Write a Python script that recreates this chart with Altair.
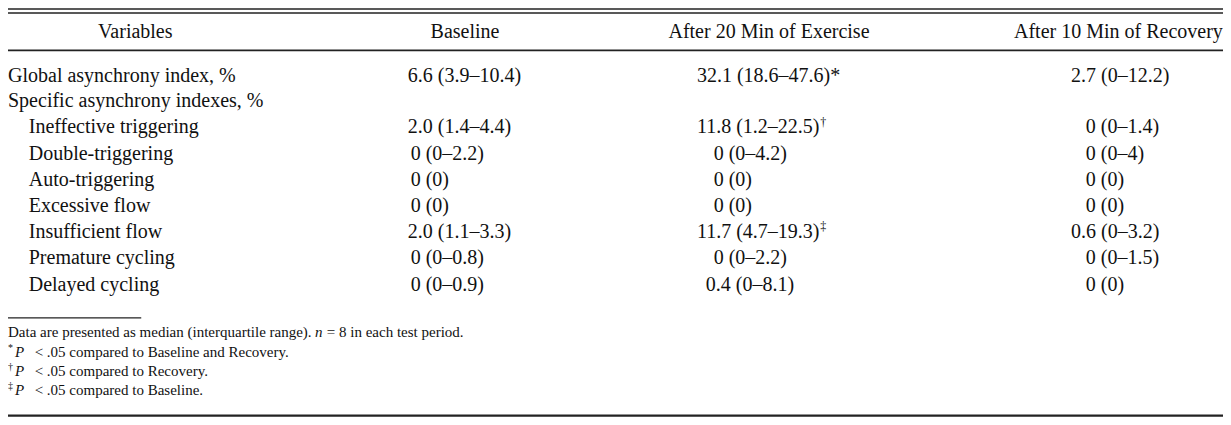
import altair as alt
import pandas as pd

# ---------------- data ----------------
headers = ["Variables", "Baseline", "After 20 Min of Exercise", "After 10 Min of Recovery"]
variables = ["Global asynchrony index, %", "Specific asynchrony indexes, %",
             "Ineffective triggering", "Double-triggering", "Auto-triggering",
             "Excessive flow", "Insufficient flow", "Premature cycling", "Delayed cycling"]
sub_item = [0, 0, 1, 1, 1, 1, 1, 1, 1]
baseline = ["6.6 (3.9–10.4)", "", "2.0 (1.4–4.4)", "0 (0–2.2)", "0 (0)", "0 (0)",
            "2.0 (1.1–3.3)", "0 (0–0.8)", "0 (0–0.9)"]
exercise = ["32.1 (18.6–47.6)*", "", "11.8 (1.2–22.5)†", "0 (0–4.2)", "0 (0)", "0 (0)",
            "11.7 (4.7–19.3)‡", "0 (0–2.2)", "0.4 (0–8.1)"]
recovery = ["2.7 (0–12.2)", "", "0 (0–1.4)", "0 (0–4)", "0 (0)", "0 (0)",
            "0.6 (0–3.2)", "0 (0–1.5)", "0 (0)"]
note_data = ["Data are presented as median (interquartile range).", "n", "= 8 in each test period."]
note_marks = ["*", "†", "‡"]
note_texts = ["< .05 compared to Baseline and Recovery.",
              "< .05 compared to Recovery.",
              "< .05 compared to Baseline."]

# ---------------- layout (reference pixel space) ----------------
W_REF, H_REF = 1231, 425
W, H = 1215, 409
FONT = "Liberation Serif"
FS = 20
FN = 15
header_y = 25
header_x = [129, 463, 771, 1125]
row_y = [71, 97, 124, 152, 179, 206, 233, 260, 288]
note_y = [337, 357, 377, 397]
col_left = [(405, 405, 408), (698, 707, 715), (1077, 1077, 1092)]
cw = {".": 0.25, " ": 0.25, "(": 0.333, ")": 0.333, "–": 0.5, "*": 0.5}


def text_w(s):
    return sum(cw.get(c, 0.5) for c in s) * FS * W_REF / W


center_rows, left_rows, ital_rows, sup_rows = [], [], [], []
for hx, h in zip(header_x, headers):
    center_rows.append({"px": hx, "py": header_y, "t": h, "fs": FS})
for i, v in enumerate(variables):
    left_rows.append({"px": 21 * sub_item[i], "py": row_y[i], "t": v, "fs": FS})
for c, col in enumerate([baseline, exercise, recovery]):
    for i, v in enumerate(col):
        if not v:
            continue
        lead = v.split(" ")[0]
        x0 = col_left[c][2] if lead == "0" else (col_left[c][0] if len(lead) >= 4 else col_left[c][1])
        mark = ""
        if v[-1] in "†‡":
            mark, v = v[-1], v[:-1]
        left_rows.append({"px": x0, "py": row_y[i], "t": v, "fs": FS})
        if mark:
            sup_rows.append({"px": x0 + text_w(v), "py": row_y[i] - 6, "t": mark, "fs": 12})

# footnotes
left_rows.append({"px": 0, "py": note_y[0], "t": note_data[0], "fs": FN})
ital_rows.append({"px": 311, "py": note_y[0], "t": note_data[1], "fs": FN})
left_rows.append({"px": 323, "py": note_y[0], "t": note_data[2], "fs": FN})
for k in range(3):
    sup_rows.append({"px": 0, "py": note_y[k + 1] - 4, "t": note_marks[k], "fs": 10})
    ital_rows.append({"px": 7, "py": note_y[k + 1], "t": "P", "fs": FN})
    left_rows.append({"px": 27, "py": note_y[k + 1], "t": note_texts[k], "fs": FN})

rules = pd.DataFrame([
    {"x": 0, "x2": W_REF, "y": 1, "w": 1.6},
    {"x": 0, "x2": W_REF, "y": 5.2, "w": 1.6},
    {"x": 0, "x2": W_REF, "y": 44, "w": 1.6},
    {"x": 0, "x2": 135, "y": 322, "w": 1.4},
    {"x": 0, "x2": W_REF, "y": 423.5, "w": 2.2},
])

xs = alt.Scale(domain=[0, W_REF], range=[0, W])
ys = alt.Scale(domain=[0, H_REF], range=[0, H])
X = alt.X("px:Q", scale=xs, axis=None)
Y = alt.Y("py:Q", scale=ys, axis=None)
S = alt.Size("fs:Q", scale=None)


def txt(rows, **kw):
    return alt.Chart(pd.DataFrame(rows)).mark_text(
        font=FONT, color="#111111", baseline="middle", **kw
    ).encode(x=X, y=Y, text="t:N", size=S)


rule_layer = alt.Chart(rules).mark_rule(color="#222222").encode(
    x=alt.X("x:Q", scale=xs, axis=None),
    x2="x2:Q",
    y=alt.Y("y:Q", scale=ys, axis=None),
    size=alt.Size("w:Q", scale=None),
)

chart = alt.layer(
    rule_layer,
    txt(center_rows, align="center"),
    txt(left_rows, align="left"),
    txt(ital_rows, align="left", fontStyle="italic"),
    txt(sup_rows, align="left"),
).properties(
    width=W, height=H, padding=0,
    autosize=alt.AutoSizeParams(type="none"),
    background="white",
).configure_view(stroke=None)

chart.save("out.html", embed_options={"renderer": "svg", "actions": False})
